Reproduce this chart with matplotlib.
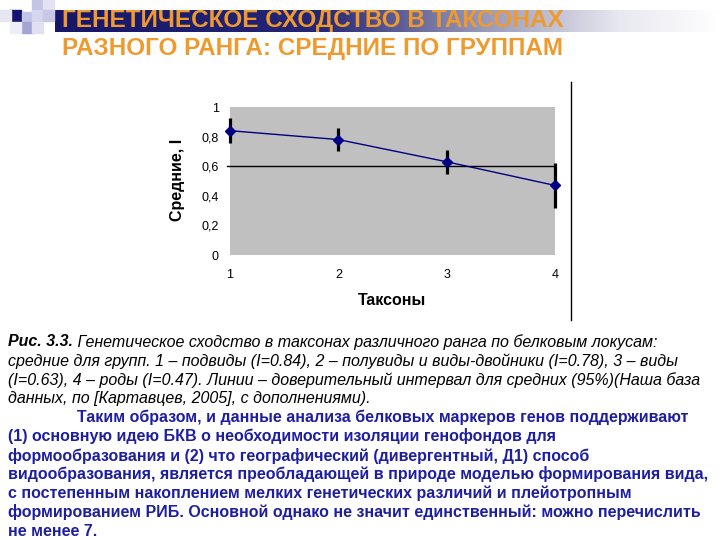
import matplotlib
matplotlib.use("Agg")
import matplotlib.pyplot as plt
import numpy as np
from matplotlib.colors import LinearSegmentedColormap
from matplotlib.patches import Rectangle

# data
taxa = [1, 2, 3, 4]
means = [0.84, 0.78, 0.63, 0.47]
ci95 = [0.085, 0.08, 0.08, 0.15]
yticks = [0, 0.2, 0.4, 0.6, 0.8, 1]
ytick_labels = ["0", "0,2", "0,4", "0,6", "0,8", "1"]

title_lines = ["ГЕНЕТИЧЕСКОЕ СХОДСТВО В ТАКСОНАХ",
               "РАЗНОГО РАНГА: СРЕДНИЕ ПО ГРУППАМ"]
caption_head = "Рис. 3.3."
caption_lines = [
    " Генетическое сходство в таксонах различного ранга по белковым локусам:",
    "средние для групп. 1 – подвиды (I=0.84), 2 – полувиды и виды-двойники (I=0.78), 3 – виды",
    "(I=0.63), 4 – роды (I=0.47). Линии – доверительный интервал для средних (95%)(Наша база",
    "данных, по [Картавцев, 2005], с дополнениями).",
]
body_lines = [
    "Таким образом, и данные анализа белковых маркеров генов поддерживают",
    "(1) основную идею БКВ о необходимости изоляции генофондов для",
    "формообразования и (2) что географический (дивергентный, Д1) способ",
    "видообразования, является преобладающей в природе моделью формирования вида,",
    "с постепенным накоплением мелких генетических различий и плейотропным",
    "формированием РИБ. Основной однако не значит единственный: можно перечислить",
    "не менее 7.",
]

ORANGE = "#EE9A2E"
NAVY = "#000080"
BLUE = "#1E1EA0"

W, H = 720, 540
fig = plt.figure(figsize=(W / 100, H / 100), dpi=100)

# background layer in pixel coordinates
bg = fig.add_axes([0, 0, 1, 1])
bg.set_xlim(0, W)
bg.set_ylim(H, 0)
bg.axis("off")

# title bar gradient: navy -> white
cmap = LinearSegmentedColormap.from_list(
    "bar", [(0, "#16166a"), (0.4, "#262676"), (0.62, "#8e8eb2"), (0.85, "#e8e8f0"), (1, "#ffffff")])
grad = np.linspace(0, 1, 256)[None, :]
bg.imshow(grad, cmap=cmap, extent=[55, W, 32, 10], aspect="auto", zorder=1)

# decorative squares top-left
squares = [
    (32, 0, "#c4c4e4"), (43, 0, "#e2e2f2"),
    (10, 10, "#14146e"), (0, 10, "#e6e6f4"),
    (22, 12, "#c0c6e8"), (32, 10, "#d6d6ee"), (43, 10, "#c8c8e6"),
    (22, 22, "#a4a4d4"), (32, 22, "#e0e0f0"), (10, 22, "#eeeef8"),
]
for x, y, c in squares:
    bg.add_patch(Rectangle((x, y), 11, 11, color=c, zorder=2))

# chart frame right edge
bg.plot([571, 571], [82, 320], color="black", lw=1)

sfont = ["Liberation Sans", "DejaVu Sans"]
for y, line in zip([21, 49], title_lines):
    bg.text(62, y, line, color=ORANGE, fontsize=17.5, fontweight="bold",
            family=sfont, va="center", ha="left", zorder=3)

# caption
head = bg.text(8, 342, caption_head, fontsize=11.5, fontweight="bold", style="italic",
               family=sfont, va="center", ha="left")
fig.canvas.draw()
x_after = head.get_window_extent().x1  # bg maps pixels 1:1
bg.text(x_after, 342, caption_lines[0], fontsize=11.5, style="italic",
        family=sfont, va="center", ha="left")
for i, line in enumerate(caption_lines[1:]):
    bg.text(8, 361 + 19 * i, line, fontsize=11.5, style="italic",
            family=sfont, va="center", ha="left")

for i, line in enumerate(body_lines):
    x0 = 77 if i == 0 else 8
    bg.text(x0, 417.5 + 19 * i, line, fontsize=11.5, fontweight="bold", color=BLUE,
            family=sfont, va="center", ha="left")

# the chart
ax = fig.add_axes([230 / W, 1 - 255 / H, 325 / W, 148 / H])
ax.set_facecolor("#c0c0c0")
ax.errorbar(taxa, means, yerr=ci95, fmt="none", ecolor="black", elinewidth=2.3,
            capsize=0, zorder=3, clip_on=False)
ax.plot(taxa, means, color=NAVY, lw=1, marker="D", ms=5, mfc=NAVY, mec=NAVY,
        zorder=4, clip_on=False)
ax.axhline(0.6, xmin=-0.01, xmax=1, color="black", lw=1, clip_on=False, zorder=2)
ax.set_xlim(1, 4)
ax.set_ylim(0, 1)
ax.set_xticks(taxa)
ax.set_yticks(yticks)
ax.set_yticklabels(ytick_labels)
for s in ax.spines.values():
    s.set_visible(False)
ax.tick_params(axis="y", length=0, pad=8, labelsize=9)
ax.tick_params(axis="x", length=0, pad=10, labelsize=9)
for lab in ax.get_xticklabels() + ax.get_yticklabels():
    lab.set_family(sfont)
ax.set_xlabel("Таксоны", fontsize=11.5, fontweight="bold", family=sfont, labelpad=9)
ax.set_ylabel("Средние, I", fontsize=11.5, fontweight="bold", family=sfont)
ax.yaxis.set_label_coords(-0.138, 0.507)

fig.savefig("out.png", dpi=100)
